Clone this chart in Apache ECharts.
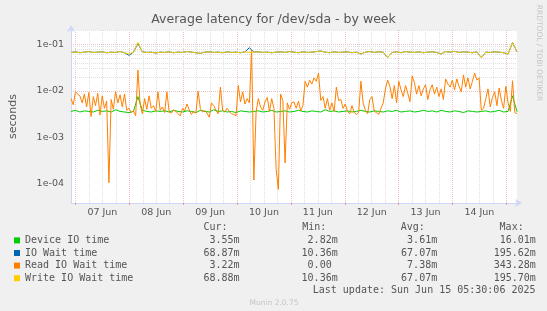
<!DOCTYPE html>
<html><head><meta charset="utf-8">
<script src="https://cdn.jsdelivr.net/npm/echarts@6/dist/echarts.min.js"></script>
<style>html,body{margin:0;padding:0;background:#F0F0F0}#c{width:547px;height:311px}</style>
</head><body><div id="c"></div>
<script>
// ---- data ----
const seriesNames = ['Device IO time', 'IO Wait time', 'Read IO Wait time', 'Write IO Wait time'];
const xLabels = ['07 Jun', '08 Jun', '09 Jun', '10 Jun', '11 Jun', '12 Jun', '13 Jun', '14 Jun'];
const yTicks = [0.0001, 0.001, 0.01, 0.1];
const yTickLabels = ['1e-04', '1e-03', '1e-02', '1e-01'];
const timeStart = Date.UTC(2025, 5, 6, 22, 0);
const timeEnd = Date.UTC(2025, 5, 15, 4, 45);
const sampleMinutes = 59.625;   // spacing of the read-off points (orange); others use twice that

const deviceIO = [
 0.0036,0.0038,0.0035,0.0037,0.0036,0.0035,0.0038,0.0036,0.0037,0.0035,
 0.0039,0.0036,0.0035,0.0034,0.0036,0.0075,0.0038,0.0036,0.0035,0.0037,
 0.0036,
 0.0037,0.0035,0.0038,0.0036,0.0035,0.0037,0.0036,0.0034,0.0038,0.0036,
 0.0035,0.0039,0.0036,0.0037,0.0035,0.0036,0.0034,0.0037,0.0036,0.0035,
 0.0036,0.0037,0.0035,0.0036,0.0038,0.0035,0.0036,0.0037,0.0035,0.0036,
 0.0038,0.0036,0.0035,0.0037,0.0036,0.0035,0.0039,0.0036,0.0037,0.0035,
 0.0036,0.0037,0.0035,0.0036,0.0038,0.0036,0.0035,0.0037,0.0036,0.0035,
 0.0037,0.0036,0.0038,0.0035,0.0036,0.0037,0.0035,0.0036,0.0038,0.0036,
 0.0037,0.0035,0.0038,0.0036,0.0035,0.0037,0.0036,0.0034,0.0037,0.0036,
 0.0035,0.0036,0.0037,0.0035,0.0036,0.0038,0.0035,0.0036,0.0078,0.00355
];
const ioWait = [
 0.067,0.069,0.066,0.068,0.07,0.067,0.068,0.069,0.066,0.068,
 0.067,0.07,0.066,0.058,0.068,0.105,0.069,0.067,0.068,0.065,
 0.068,
 0.067,0.069,0.066,0.068,0.067,0.07,0.068,0.066,0.064,0.068,
 0.069,0.067,0.068,0.066,0.069,0.067,0.068,0.066,0.069,0.085,
 0.068,0.069,0.067,0.068,0.066,0.068,0.069,0.067,0.07,0.068,
 0.066,0.069,0.067,0.068,0.07,0.072,0.068,0.066,0.069,0.067,
 0.068,0.069,0.066,0.068,0.062,0.068,0.07,0.067,0.069,0.068,
 0.052,0.067,0.069,0.066,0.07,0.068,0.067,0.069,0.066,0.068,
 0.069,0.067,0.062,0.07,0.068,0.071,0.067,0.069,0.068,0.066,
 0.069,0.052,0.068,0.067,0.069,0.068,0.066,0.062,0.11,0.06887
];
const readWait = [
 0.0068,0.005,0.0095,0.0085,0.0078,0.0055,0.0085,0.0045,0.0092,0.0028,
 0.0075,0.0048,0.0088,0.003,0.0078,0.0042,0.006,0.000105,0.0065,0.004,
 0.0095,0.0055,0.0082,0.0045,0.0085,0.0038,0.0042,0.0034,0.0037,0.0029,
 0.028,0.0052,0.0032,0.0068,0.004,0.0078,0.0042,0.0048,0.0036,0.0095,
 0.0038,0.0045,0.0034,0.0095,0.0036,0.0033,0.0039,0.0036,0.0032,0.0029,
 0.0042,0.0037,0.0052,0.0039,0.0031,0.0036,0.0033,0.0098,0.0042,0.0035,
 0.0038,0.0033,0.0027,0.0055,0.0048,0.0038,0.0032,0.012,0.0038,0.0035,
 0.0042,0.0036,0.0032,0.0031,0.0029,0.013,0.0058,0.0095,0.0052,0.0068,
 0.0055,0.075,0.00012,0.0035,0.0068,0.0045,0.0038,0.0058,0.0072,0.0036,
 0.0068,0.0042,0.0002,0.000075,0.0085,0.0062,0.00028,0.0055,0.004,0.0055,
 0.0058,0.0042,0.006,0.0037,0.0048,0.016,0.012,0.017,0.014,0.019,
 0.016,0.024,0.0062,0.0075,0.0042,0.0068,0.0038,0.0055,0.0036,0.012,
 0.0062,0.0065,0.0042,0.0052,0.0036,0.0032,0.0048,0.0034,0.0031,0.0034,
 0.016,0.0055,0.0038,0.0032,0.0065,0.0075,0.0036,0.0034,0.0031,0.0042,
 0.0055,0.011,0.017,0.0125,0.0068,0.013,0.0055,0.016,0.0105,0.0075,
 0.013,0.009,0.0058,0.021,0.015,0.0085,0.013,0.0078,0.011,0.0135,
 0.0065,0.0105,0.0135,0.0085,0.012,0.0075,0.011,0.0065,0.018,0.014,
 0.012,0.017,0.0105,0.018,0.0125,0.0095,0.022,0.012,0.019,0.011,
 0.016,0.024,0.017,0.019,0.0038,0.0042,0.0068,0.011,0.0045,0.0072,
 0.0095,0.0048,0.0115,0.0062,0.0042,0.0125,0.0055,0.0036,0.0165,0.0034,
 0.00322
];
const writeWait = [
 0.067,0.069,0.066,0.068,0.07,0.067,0.068,0.069,0.066,0.068,
 0.067,0.07,0.066,0.062,0.068,0.11,0.069,0.067,0.068,0.065,
 0.068,
 0.067,0.069,0.066,0.068,0.067,0.07,0.068,0.066,0.064,0.068,
 0.069,0.067,0.068,0.066,0.069,0.067,0.068,0.066,0.069,0.067,
 0.068,0.069,0.067,0.068,0.066,0.068,0.069,0.067,0.07,0.068,
 0.066,0.069,0.067,0.068,0.07,0.072,0.068,0.066,0.069,0.067,
 0.068,0.069,0.066,0.068,0.062,0.068,0.07,0.067,0.069,0.068,
 0.052,0.067,0.069,0.066,0.07,0.068,0.067,0.069,0.066,0.068,
 0.069,0.067,0.062,0.07,0.068,0.071,0.067,0.069,0.068,0.066,
 0.069,0.052,0.068,0.067,0.069,0.068,0.066,0.062,0.11,0.06888
];
const statCur = ['3.55m', '68.87m', '3.22m', '68.88m'];
const statMin = ['2.82m', '10.36m', '0.00 ', '10.36m'];
const statAvg = ['3.61m', '67.07m', '7.38m', '67.07m'];
const statMax = ['16.01m', '195.62m', '343.28m', '195.70m'];
const statHeaders = ['Cur:', 'Min:', 'Avg:', 'Max:'];
const lastUpdate = 'Last update: Sun Jun 15 05:30:06 2025';

// ---- styling / build ----
const colors = ['#00CC00', '#0066B3', '#FF8000', '#FFCC00'];
const stepMs = sampleMinutes * 60000;
const pairs = (vals, step) => vals.map((v, i) => [timeStart + i * step, v]);
const seriesData = [pairs(deviceIO, 2 * stepMs), pairs(ioWait, 2 * stepMs), pairs(readWait, stepMs), pairs(writeWait, 2 * stepMs)];

const DAY = 86400000, HOUR = 3600000;
const firstMidnight = Date.UTC(2025, 5, 7, 0, 0);
const noonTimes = xLabels.map((_, i) => firstMidnight + i * DAY + 12 * HOUR);
const midnights = [];
for (let t = firstMidnight; t <= timeEnd; t += DAY) midnights.push(t);

const majorGrid = '#F0C2C2', minorGrid = '#E0E0E0';
const gridLines = [];
for (let t = firstMidnight; t <= timeEnd; t += 6 * HOUR) {
  const major = ((t - firstMidnight) % DAY) === 0;
  gridLines.push({ xAxis: t, lineStyle: { color: major ? majorGrid : minorGrid, type: [1, 1], width: 1 } });
}
const yMin = 3.84e-5, yMax = 0.204;
for (let e = -5; e <= -1; e++) {
  for (let k = 1; k <= 9; k++) {
    const v = k * Math.pow(10, e);
    if (v < yMin || v > yMax) continue;
    gridLines.push({ yAxis: v, lineStyle: { color: k === 1 ? majorGrid : minorGrid, type: [1, 1], width: 1 } });
  }
}

const textColor = '#555';
const graphics = [];
const colRight = [239.5, 337.7, 437.2, 535.8];
const headLeft = [203.4, 302.2, 400.8, 499.6];
const rowY = [240.4, 253.0, 265.7, 278.3];
const mono = '10px "DejaVu Sans Mono"';
statHeaders.forEach((h, i) => graphics.push({ type: 'text', style: { text: h, x: headLeft[i], y: 227.8, align: 'left', verticalAlign: 'middle', font: mono, fill: textColor } }));
[statCur, statMin, statAvg, statMax].forEach((col, c) => col.forEach((s, r) => graphics.push({
  type: 'text', style: { text: s, x: colRight[c], y: rowY[r], align: 'right', verticalAlign: 'middle', font: mono, fill: textColor } })));
graphics.push({ type: 'text', style: { text: lastUpdate, x: 535.5, y: 290.6, align: 'right', verticalAlign: 'middle', font: mono, fill: textColor } });
graphics.push({ type: 'text', style: { text: 'Munin 2.0.75', x: 274, y: 303, align: 'center', verticalAlign: 'middle', font: '7.5px "DejaVu Sans"', fill: '#C4C4C4' } });
graphics.push({ type: 'text', x: 538.5, y: 53, rotation: -Math.PI / 2, style: { text: 'RRDTOOL / TOBI OETIKER', x: 0, y: 0, align: 'center', verticalAlign: 'middle', font: '7.5px "DejaVu Sans"', fill: '#C4C4C4' } });

const axisColor = '#CFD6F8';
const option = {
  animation: false,
  backgroundColor: '#F0F0F0',
  title: { text: 'Average latency for /dev/sda - by week', left: 'center', top: 13, padding: 0,
    textStyle: { fontFamily: 'DejaVu Sans', fontSize: 12.5, fontWeight: 'normal', color: textColor } },
  grid: { left: 67, right: 30, top: 30, bottom: 108, show: true, backgroundColor: '#FFFFFF', borderWidth: 0 },
  legend: { data: seriesNames, orient: 'vertical', left: 14, top: 234.1, padding: 0, itemGap: 0,
    itemWidth: 6, itemHeight: 6, icon: 'rect', selectedMode: false,
    textStyle: { fontFamily: 'DejaVu Sans Mono', fontSize: 10, color: textColor, lineHeight: 12.6 } },
  xAxis: { type: 'value', min: timeStart, max: timeEnd, scale: true,
    axisLine: { show: true, lineStyle: { color: axisColor, width: 1 }, symbol: ['none', 'arrow'], symbolSize: [6, 7], symbolOffset: [0, 5] },
    axisTick: { show: true, customValues: midnights, length: 2, lineStyle: { color: '#E59A9A', width: 1 } },
    splitLine: { show: false },
    axisLabel: { customValues: noonTimes, margin: 5, color: textColor, fontFamily: 'DejaVu Sans', fontSize: 9.5,
      formatter: v => xLabels[Math.round((v - noonTimes[0]) / DAY)] || '' } },
  yAxis: { type: 'log', logBase: 10, min: yMin, max: yMax,
    axisLine: { show: true, lineStyle: { color: axisColor, width: 1 }, symbol: ['none', 'arrow'], symbolSize: [6, 7], symbolOffset: [0, 5] },
    axisTick: { show: false }, splitLine: { show: false }, minorSplitLine: { show: false },
    axisLabel: { showMinLabel: false, showMaxLabel: false, margin: 7, color: textColor, fontFamily: 'DejaVu Sans', fontSize: 9.5,
      formatter: v => { const i = yTicks.findIndex(t => Math.abs(Math.log10(t) - Math.log10(v)) < 1e-6); return i < 0 ? '' : yTickLabels[i]; } },
    name: 'seconds', nameLocation: 'middle', nameGap: 52, nameRotate: 90,
    nameTextStyle: { fontFamily: 'DejaVu Sans', fontSize: 11, color: textColor } },
  graphic: graphics,
  series: [
    { type: 'line', name: '_grid', data: [], silent: true, z: 0,
      markLine: { silent: true, symbol: 'none', animation: false, z: 0, label: { show: false }, data: gridLines } }
  ].concat(seriesNames.map((n, i) => ({
    type: 'line', name: n, data: seriesData[i], showSymbol: false, symbol: 'none', z: 3 + i,
    lineStyle: { width: 1, color: colors[i] }, itemStyle: { color: colors[i] }
  })))
};
const chart = echarts.init(document.getElementById('c'));
chart.setOption(option);
</script></body></html>
